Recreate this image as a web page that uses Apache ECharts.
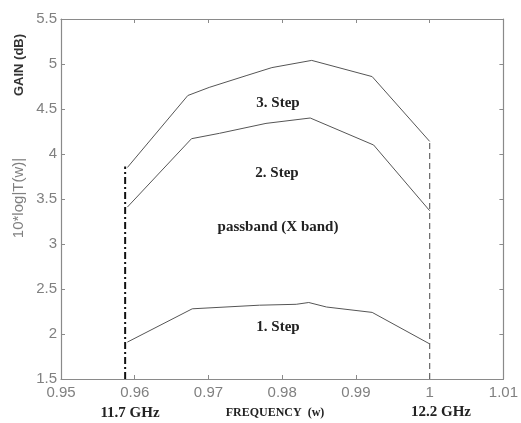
<!DOCTYPE html>
<html><head><meta charset="utf-8">
<script src="https://cdn.jsdelivr.net/npm/echarts@6/dist/echarts.min.js"></script>
<style>html,body{margin:0;padding:0;background:#fff}#c{width:521px;height:423px}</style>
</head><body><div id="c"></div>
<script>
// Data
const xTicks = [0.95, 0.96, 0.97, 0.98, 0.99, 1.00, 1.01];
const yTicks = [1.5, 2, 2.5, 3, 3.5, 4, 4.5, 5, 5.5];
const step3X = [0.959, 0.9672, 0.9701, 0.9751, 0.9786, 0.9840, 0.9922, 1.000];
const step3Y = [3.85, 4.65, 4.74, 4.87, 4.96, 5.04, 4.86, 4.14];
const step2X = [0.959, 0.9677, 0.9715, 0.9778, 0.9838, 0.9924, 1.000];
const step2Y = [3.41, 4.17, 4.23, 4.34, 4.40, 4.10, 3.37];
const step1X = [0.959, 0.9678, 0.9769, 0.9819, 0.9836, 0.9860, 0.9922, 1.000];
const step1Y = [1.91, 2.28, 2.32, 2.33, 2.35, 2.30, 2.24, 1.89];
const bandLowX = [0.9587, 0.9587];
const bandLowY = [1.5, 3.86];
const bandHighX = [1.000, 1.000];
const bandHighY = [1.5, 4.14];
const annotations = ['3. Step', '2. Step', 'passband (X band)', '1. Step'];

const zip = (xs, ys) => xs.map((x, i) => [x, ys[i]]);
const chart = echarts.init(document.getElementById('c'));
const axisGray = '#8a8a8a';
const lblStyle = { color: '#808080', fontFamily: 'Liberation Sans, Arial, sans-serif', fontSize: 15 };
const fmt = v => String(parseFloat(Number(v).toFixed(3)));
const baseX = {
  type: 'value', min: xTicks[0], max: xTicks[xTicks.length - 1], interval: 0.01,
  axisLine: { show: true, onZero: false, lineStyle: { color: axisGray, width: 1.2 } },
  axisTick: { show: true, inside: true, length: 4, lineStyle: { color: axisGray } },
  splitLine: { show: false }
};
const baseY = {
  type: 'value', min: yTicks[0], max: yTicks[yTicks.length - 1], interval: 0.5,
  axisLine: { show: true, onZero: false, lineStyle: { color: axisGray, width: 1.2 } },
  axisTick: { show: true, inside: true, length: 4, lineStyle: { color: axisGray } },
  splitLine: { show: false }
};
const curve = (data) => ({
  type: 'line', data, symbol: 'none', xAxisIndex: 0, yAxisIndex: 0,
  lineStyle: { color: '#555', width: 1 }, animation: false, silent: true
});
const serifB = 'bold 15px "Liberation Serif", "Times New Roman", serif';
const txt = (text, x, y, font, fill, rot) => ({
  type: 'text', x, y, rotation: rot || 0,
  style: { text, font, fill: fill || '#222', textAlign: 'center', textVerticalAlign: 'middle' }
});
chart.setOption({
  animation: false,
  grid: { left: 61, top: 19, right: 16, bottom: 44, containLabel: false },
  xAxis: [
    Object.assign({}, baseX, { position: 'bottom', axisLabel: Object.assign({ margin: 6, formatter: fmt, showMinLabel: true, showMaxLabel: true }, lblStyle) }),
    Object.assign({}, baseX, { position: 'top', axisLabel: { show: false } })
  ],
  yAxis: [
    Object.assign({}, baseY, { position: 'left', axisLabel: Object.assign({ margin: 4, formatter: fmt, showMinLabel: true, showMaxLabel: true }, lblStyle) }),
    Object.assign({}, baseY, { position: 'right', axisLabel: { show: false } })
  ],
  series: [
    curve(zip(step3X, step3Y)),
    curve(zip(step2X, step2Y)),
    curve(zip(step1X, step1Y)),
    { type: 'line', data: zip(bandLowX, bandLowY), symbol: 'none', silent: true,
      lineStyle: { color: '#111', width: 2, type: [7, 3, 2, 3] } },
    { type: 'line', data: zip(bandHighX, bandHighY), symbol: 'none', silent: true,
      lineStyle: { color: '#666', width: 1.2, type: [6, 4] } }
  ],
  graphic: [
    txt(annotations[0], 278, 103, serifB),
    txt(annotations[1], 277, 173, serifB),
    txt(annotations[2], 278, 227, serifB),
    txt(annotations[3], 278, 327, serifB),
    txt('11.7 GHz', 130, 413, 'bold 15px "Liberation Serif", serif', '#222'),
    txt('12.2 GHz', 441, 412, 'bold 15px "Liberation Serif", serif', '#222'),
    txt('FREQUENCY  (w)', 275, 413, 'bold 12px "Liberation Serif", serif', '#222'),
    txt('GAIN (dB)', 19, 65, 'bold 13px "Liberation Sans Narrow", "Liberation Sans", Arial, sans-serif', '#333', Math.PI / 2),
    txt('10*log|T(w)|', 19, 198, '15px "Liberation Sans", Arial, sans-serif', '#808080', Math.PI / 2)
  ]
});
</script></body></html>
